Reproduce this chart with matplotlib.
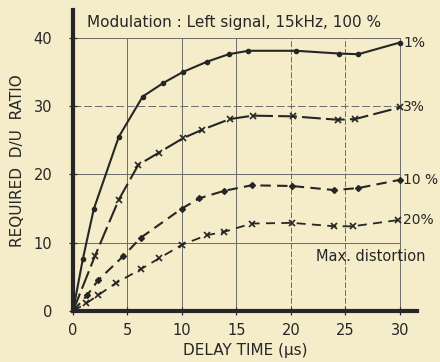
import matplotlib
matplotlib.use('Agg')
import matplotlib.pyplot as plt

# 1 % distortion curve
x_1 = [0, 0.9, 1.9, 4.2, 6.4, 8.3, 10.1, 12.3, 14.3, 16.1, 20.5, 24.4, 26.2, 30]
y_1 = [0, 7.6, 14.9, 25.5, 31.4, 33.4, 35.0, 36.5, 37.6, 38.1, 38.1, 37.7, 37.6, 39.3]
# 3 %
x_3 = [0, 2.0, 4.2, 6.0, 7.9, 10.1, 11.8, 14.4, 16.5, 20.2, 24.3, 25.9, 30]
y_3 = [0, 8.0, 16.3, 21.4, 23.2, 25.3, 26.5, 28.1, 28.6, 28.5, 28.0, 28.1, 29.8]
# 10 %
x_10 = [0, 1.3, 2.3, 4.6, 6.2, 10.0, 11.6, 13.9, 16.4, 20.1, 24.0, 26.2, 30]
y_10 = [0, 2.3, 4.5, 8.0, 10.7, 15.0, 16.5, 17.6, 18.4, 18.3, 17.7, 18.0, 19.2]
# 20 %
x_20 = [0, 1.2, 2.3, 3.9, 6.2, 7.9, 10.0, 12.3, 13.9, 16.4, 20.1, 24.0, 25.7, 29.8]
y_20 = [0, 1.1, 2.3, 4.05, 6.1, 7.7, 9.7, 11.1, 11.6, 12.8, 12.9, 12.4, 12.4, 13.3]

labels = ['1%', '3%', '10 %', '20%']
xticks = [0, 5, 10, 15, 20, 25, 30]
yticks = [0, 10, 20, 30, 40]

BG = '#F5EDC9'
INK = '#262626'
plt.rcParams['font.family'] = ['DejaVu Sans']

fig = plt.figure(figsize=(4.4, 3.62), dpi=100, facecolor=BG)
ax = fig.add_axes([0.166, 0.141, 0.782, 0.830], facecolor=BG)
ax.set_xlim(0, 31.6)
ax.set_ylim(0, 44)

# grid lines stop at 30 / 40
for xv in xticks[1:]:
    ax.plot([xv, xv], [0, 40], color='#6a6a6a', lw=0.7, ls=(0, (6, 2)) if xv in (20, 25) else '-', zorder=1)
for yv in yticks[1:]:
    ax.plot([0, 30], [yv, yv], color='#6a6a6a', lw=0.7, ls=(0, (8, 3)) if yv == 30 else '-', zorder=1)

ax.plot(x_1, y_1, color=INK, lw=1.5, marker='o', ms=3, zorder=3)
ax.plot(x_3, y_3, color=INK, lw=1.5, ls=(0, (9, 2.5)), marker='x', ms=5, mew=1.2, zorder=3)
ax.plot(x_10, y_10, color=INK, lw=1.5, ls=(0, (5, 3)), marker='D', ms=3, zorder=3)
ax.plot(x_20, y_20, color=INK, lw=1.3, ls=(0, (5, 3.5)), marker='x', ms=5, mew=1.2, zorder=3)

for lab, ys in zip(labels, [y_1, y_3, y_10, y_20]):
    ax.text(30.3, ys[-1], lab, fontsize=10, color=INK, va='center', ha='left', clip_on=False)

ax.text(22.3, 8.0, 'Max. distortion', fontsize=10.5, color=INK, va='center', ha='left',
        clip_on=False)
ax.text(1.3, 42.3, 'Modulation : Left signal, 15kHz, 100 %', fontsize=11, color=INK,
        va='center', ha='left')

for s in ('top', 'right'):
    ax.spines[s].set_visible(False)
ax.spines['left'].set_linewidth(3)
ax.spines['bottom'].set_linewidth(3)
ax.spines['left'].set_color(INK)
ax.spines['bottom'].set_color(INK)

ax.set_xticks(xticks)
ax.set_yticks(yticks)
ax.tick_params(direction='inout', length=6, width=0.9, colors=INK, labelsize=10.5)
ax.tick_params(axis='x', pad=6)
ax.tick_params(axis='y', pad=12)
ax.set_xlabel('DELAY TIME (μs)', fontsize=11, color=INK, labelpad=3)
ax.set_ylabel('REQUIRED  D/U  RATIO', fontsize=11, color=INK, labelpad=6)

fig.savefig('out.png', dpi=100, facecolor=BG)
